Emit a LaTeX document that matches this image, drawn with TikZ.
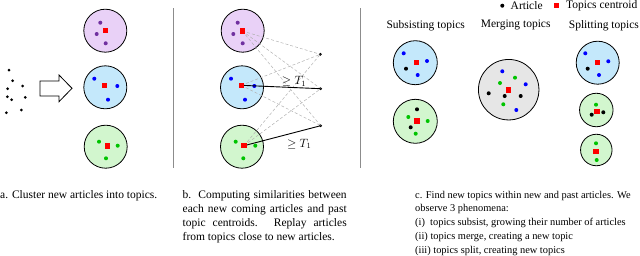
\documentclass[tikz,border=0pt]{standalone}
\usepackage{fontspec}
\setmainfont{Liberation Serif}
\usetikzlibrary{positioning}
\definecolor{lila}{HTML}{E9D1F7}
\definecolor{celeste}{HTML}{C4E8FB}
\definecolor{verdec}{HTML}{D2F6CE}
\definecolor{grisc}{HTML}{E6E6E6}
\definecolor{morado}{HTML}{7030A0}
\definecolor{azul}{HTML}{0000FF}
\definecolor{verde}{HTML}{00C400}
\definecolor{rojo}{HTML}{FF0000}
\definecolor{linea}{HTML}{8C8C8C}
\tikzset{
  topico/.style={circle, draw=black, line width=0.8pt, inner sep=0pt, minimum size=43pt},
  art/.style={circle, fill=black, inner sep=0pt, minimum size=3pt},
  artc/.style={circle, inner sep=0pt, minimum size=4pt},
  centro/.style={rectangle, fill=rojo, inner sep=0pt, minimum size=5.5pt},
  simil/.style={densely dashed, draw=black!30, line width=0.5pt},
  umbral/.style={line width=0.9pt, color=black},
  divisor/.style={line width=0.6pt, color=linea},
  titulo/.style={font=\fontsize{11.5}{13.7}\selectfont, inner sep=0pt},
  leyenda/.style={titulo, anchor=north west, align=left},
  flecha/.style={draw=black, line width=0.8pt, fill=white, line join=miter}
}

\begin{document}
\begin{tikzpicture}[x=1pt, y=-1pt]
  \useasboundingbox (0,0) rectangle (640,255);
  % a: nuevos articulos
  \node (n1) [art] at (9,70) {};
  \node (n2) [art] at (12.7,80.7) {};
  \node (n3) [art] at (7.7,88.7) {};
  \node (n4) [art] at (22.7,86) {};
  \node (n5) [art] at (7.3,96.7) {};
  \node (n6) [art] at (11.7,99.7) {};
  \node (n7) [art] at (25.3,97.3) {};
  \node (n8) [art] at (6.3,112.7) {};
  \node (n9) [art] at (21.3,110) {};
  \draw [flecha] (40,81) -- (59,81) -- (59,75) -- (72,88.3) -- (59,101.7) -- (59,96) -- (40,96) -- cycle;
  \node (ta1) [topico, fill=lila] at (105.3,30.7) {};
  \node (ta2) [topico, fill=celeste] at (105.3,87.3) {};
  \node (ta3) [topico, fill=verdec] at (105.7,146.7) {};
  \node (a11) [artc, fill=morado] at (100.3,22.7) {};
  \node (a12) [artc, fill=morado] at (96.7,34) {};
  \node (a13) [artc, fill=morado] at (105.7,43.3) {};
  \node (ca1) [centro] at (105.3,30.7) {};
  \node (a21) [artc, fill=azul] at (94.3,78.7) {};
  \node (a22) [artc, fill=azul] at (117.3,86) {};
  \node (a23) [artc, fill=azul] at (108,99.7) {};
  \node (ca2) [centro] at (104.3,85.3) {};
  \node (a31) [artc, fill=verde] at (99,141.7) {};
  \node (a32) [artc, fill=verde] at (117.7,145.7) {};
  \node (a33) [artc, fill=verde] at (106,158.3) {};
  \node (ca3) [centro] at (107.3,146) {};
  \draw [divisor] (173.3,8.3) -- (173.3,168.3);
  % b: similitudes
  \node (tb1) [topico, fill=lila] at (242.7,30.7) {};
  \node (tb2) [topico, fill=celeste] at (242,87.3) {};
  \node (tb3) [topico, fill=verdec] at (242,146.7) {};
  \node (b11) [artc, fill=morado] at (237.7,22.7) {};
  \node (b12) [artc, fill=morado] at (233.3,34) {};
  \node (b13) [artc, fill=morado] at (242.7,43.3) {};
  \node (b21) [artc, fill=azul] at (231,78.7) {};
  \node (b22) [artc, fill=azul] at (254.3,86) {};
  \node (b23) [artc, fill=azul] at (245,99.7) {};
  \node (b31) [artc, fill=verde] at (235.7,141.7) {};
  \node (b32) [artc, fill=verde] at (255.3,145.7) {};
  \node (b33) [artc, fill=verde] at (243.3,158.3) {};
  \node (q1) [art] at (320.3,54.3) {};
  \node (q2) [art] at (320.7,88.7) {};
  \node (q3) [art] at (320.7,125.7) {};
  \draw [simil] (242.3,31) coordinate (cb1) -- (q1.center);
  \draw [simil] (cb1) -- (q2.center);
  \draw [simil] (cb1) -- (q3.center);
  \draw [simil] (241.3,85.3) coordinate (cb2) -- (q1.center);
  \draw [simil] (cb2) -- (q3.center);
  \draw [simil] (244,145.7) coordinate (cb3) -- (q1.center);
  \draw [simil] (cb3) -- (q2.center);
  \draw [umbral] (cb2) -- (q2.center);
  \draw [umbral] (cb3) -- (q3.center);
  \node (cb1n) [centro] at (cb1) {};
  \node (cb2n) [centro] at (cb2) {};
  \node (cb3n) [centro] at (cb3) {};
  \node (u1) [titulo] at (294,81.5) {$\geq T_1$};
  \node (u2) [titulo] at (299.2,143.8) {$\geq T_1$};
  \draw [divisor] (360.5,8.3) -- (360.5,168.3);
  % c: fenomenos
  \node (lg1) [art, minimum size=4pt] at (502.3,5.7) {};
  \node (lg1t) [titulo, anchor=west] at (510.5,5.6) {Article};
  \node (lg2) [centro, minimum size=4.5pt] at (556.7,5.7) {};
  \node (lg2t) [titulo, anchor=west] at (566,5.6) {Topics centroid};
  \node (h1) [titulo] at (425.7,25.3) {Subsisting topics};
  \node (h2) [titulo] at (515.7,25.3) {Merging topics};
  \node (h3) [titulo, anchor=west] at (568.7,25.3) {Splitting topics};
  % subsisten
  \node (s1) [topico, fill=celeste, minimum size=44pt] at (415.3,62.7) {};
  \node (s11) [artc, fill=azul] at (403.7,53.3) {};
  \node (s12) [artc, fill=azul] at (427,61) {};
  \node (s13) [artc, fill=black] at (406,68.7) {};
  \node (s14) [artc, fill=azul] at (417.7,75) {};
  \node (cs1) [centro] at (416.3,62.7) {};
  \node (s2) [topico, fill=verdec, minimum size=44pt] at (415.3,121.3) {};
  \node (s21) [artc, fill=black] at (417,109.3) {};
  \node (s22) [artc, fill=verde] at (408.3,117) {};
  \node (s23) [artc, fill=verde] at (427.7,121) {};
  \node (s24) [artc, fill=black] at (410.7,127.3) {};
  \node (s25) [artc, fill=verde] at (415.7,133.7) {};
  \node (cs2) [centro] at (417,121) {};
  % se fusionan
  \node (m) [topico, fill=grisc, minimum size=60.5pt] at (508.7,89.7) {};
  \node (m1) [artc, fill=azul] at (502.3,71.3) {};
  \node (m2) [artc, fill=verde] at (500,83) {};
  \node (m3) [artc, fill=verde] at (515,77.7) {};
  \node (m4) [artc, fill=azul] at (525.7,84.3) {};
  \node (m5) [artc, fill=black] at (488.7,93.3) {};
  \node (m6) [artc, fill=black] at (504.7,96) {};
  \node (m7) [artc, fill=black] at (520.7,96) {};
  \node (m8) [artc, fill=verde] at (503.3,104.3) {};
  \node (m9) [artc, fill=azul] at (516.3,110) {};
  \node (cm) [centro] at (508.7,90) {};
  % se dividen
  \node (d1) [topico, fill=celeste] at (597.7,62.7) {};
  \node (d11) [artc, fill=azul] at (585.3,53.3) {};
  \node (d12) [artc, fill=azul] at (608.3,61.3) {};
  \node (d13) [artc, fill=black] at (587.7,68.7) {};
  \node (d14) [artc, fill=azul] at (599,75) {};
  \node (cd1) [centro] at (597.7,62.7) {};
  \node (d2) [topico, fill=verdec, minimum size=33.5pt] at (596.3,110) {};
  \node (d21) [artc, fill=verde] at (596,104.7) {};
  \node (d22) [artc, fill=black] at (591.7,114.7) {};
  \node (d23) [artc, fill=black] at (603.3,112.3) {};
  \node (cd2) [centro] at (597,111.7) {};
  \node (d3) [topico, fill=verdec, minimum size=31.5pt] at (596.3,150) {};
  \node (d31) [artc, fill=verde] at (596,143.3) {};
  \node (d32) [artc, fill=verde] at (596.7,160) {};
  \node (cd3) [centro] at (596,151.7) {};
  % leyendas
  \node (la) [leyenda] at (0,190.8) {a. Cluster new articles into topics.};
  \node (lb) [leyenda, align=justify, text width=164pt] at (182.5,190.8)
    {b.\ \ Computing similarities between each new coming articles and past topic centroids. Replay articles from topics close to new articles.};
  \node (lc) [leyenda, font=\fontsize{10.4}{13.7}\selectfont] at (415,190.8)
    {c. Find new topics within new and past articles. We\\observe 3 phenomena:\\(i)\ \ topics subsist, growing their number of articles\\(ii) topics merge, creating a new topic\\(iii) topics split, creating new topics};
\end{tikzpicture}
\end{document}
